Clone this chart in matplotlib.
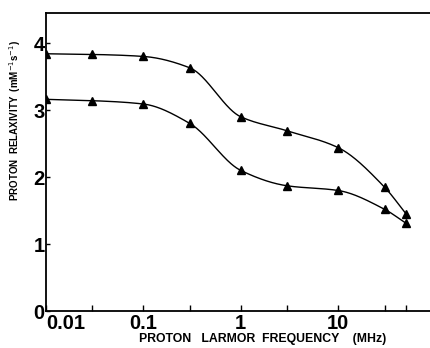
import numpy as np
import matplotlib
matplotlib.use("Agg")
import matplotlib.pyplot as plt
from matplotlib.ticker import FixedLocator, NullFormatter

freq_mhz = [0.01, 0.03, 0.1, 0.3, 1, 3, 10, 30, 50]
upper = [3.84, 3.83, 3.80, 3.63, 2.90, 2.69, 2.44, 1.85, 1.45]
lower = [3.16, 3.14, 3.09, 2.80, 2.10, 1.87, 1.80, 1.52, 1.31]
xticks = [0.01, 0.1, 1, 10]
xtick_labels = ["0.01", "0.1", "1", "10"]
xminor = [0.03, 0.3, 3, 30, 50]
yticks = [0, 1, 2, 3, 4]


def pchip(x, y, xn):
    x = np.asarray(x, float); y = np.asarray(y, float)
    h = np.diff(x); d = np.diff(y) / h
    m = np.zeros_like(y)
    for k in range(1, len(x) - 1):
        if d[k - 1] * d[k] > 0:
            w1 = 2 * h[k] + h[k - 1]; w2 = h[k] + 2 * h[k - 1]
            m[k] = (w1 + w2) / (w1 / d[k - 1] + w2 / d[k])
    m[0] = d[0]; m[-1] = d[-1]
    idx = np.clip(np.searchsorted(x, xn) - 1, 0, len(x) - 2)
    t = (xn - x[idx]) / h[idx]
    h00 = 2 * t**3 - 3 * t**2 + 1; h10 = t**3 - 2 * t**2 + t
    h01 = -2 * t**3 + 3 * t**2; h11 = t**3 - t**2
    return h00 * y[idx] + h10 * h[idx] * m[idx] + h01 * y[idx + 1] + h11 * h[idx] * m[idx + 1]


fig = plt.figure(figsize=(4.3, 3.48), dpi=100)
ax = fig.add_axes([0.107, 0.106, 0.893, 0.857])

lx = np.log10(freq_mhz)
xs = np.linspace(lx[0], lx[-1], 400)
for series in (upper, lower):
    ys = pchip(lx, series, xs)
    ax.plot(10**xs, ys, color="black", lw=1.0)
    ax.plot(freq_mhz, series, linestyle="none", marker="^", color="black", ms=5.5)

ax.set_xscale("log")
ax.set_xlim(0.01, 88)
ax.set_ylim(0, 4.45)
ax.xaxis.set_major_locator(FixedLocator(xticks))
ax.set_xticklabels(xtick_labels)
ax.xaxis.set_minor_locator(FixedLocator(xminor))
ax.xaxis.set_minor_formatter(NullFormatter())
ax.set_yticks(yticks)
ax.set_yticklabels([str(v) for v in yticks])
for lab in ax.get_xticklabels()[:1]:
    lab.set_horizontalalignment("left")

ax.tick_params(axis="both", which="both", direction="in", labelsize=14.5)
ax.tick_params(axis="x", which="both", length=4, width=1, pad=2)
ax.tick_params(axis="y", length=3, width=1, pad=1)
for lab in ax.get_xticklabels() + ax.get_yticklabels():
    lab.set_fontweight("bold")
    lab.set_family("Liberation Sans")

ax.spines["right"].set_visible(False)
for s in ("left", "bottom", "top"):
    ax.spines[s].set_linewidth(1.3)

ax.set_xlabel("PROTON   LARMOR  FREQUENCY    (MHz)", fontsize=8.8, fontweight="bold",
              family="Liberation Sans", labelpad=0)
ax.xaxis.set_label_coords(0.565, -0.075)
ax.set_ylabel(r"PROTON  RELAXIVITY  (mM$^{-1}$s$^{-1}$)", fontsize=7, fontweight="bold",
              family="Liberation Sans", labelpad=2)
ax.yaxis.set_label_coords(-0.06, 0.64)

fig.savefig("out.png", dpi=100)
